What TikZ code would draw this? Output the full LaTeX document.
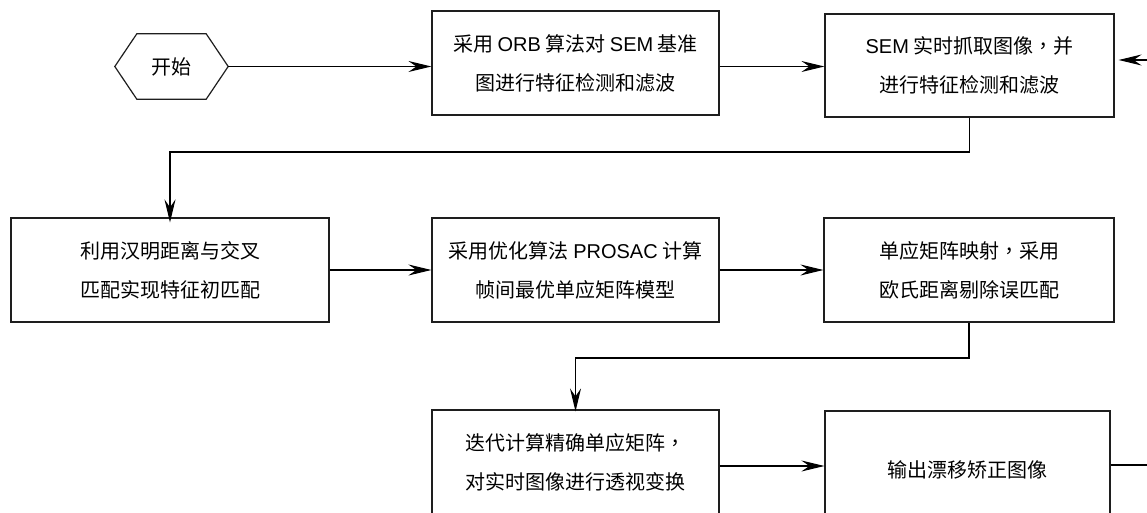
\documentclass[tikz,border=0pt]{standalone}
\usepackage{fontspec}
\setmainfont{Noto Sans CJK SC}
\newfontfamily\lat{Liberation Sans}
\newfontfamily\tcfont{Noto Sans CJK TC}
\newcommand{\cm}{{\tcfont ，}}
\usetikzlibrary{arrows.meta,calc}
\definecolor{ink}{RGB}{30,30,30}
\tikzset{
  box/.style={draw=ink, line width=1.2pt, rectangle, inner sep=0pt, align=center,
              font=\fontsize{20}{39}\selectfont, text=black},
  conn/.style={draw=black, line width=1.1pt},
  arr/.style={conn, -{Stealth[length=23pt,width=11pt,inset=8pt]}}
}
\begin{document}
\begin{tikzpicture}[x=1pt,y=-1pt]
\useasboundingbox (0,0) rectangle (1147,513);
\clip (0,0) rectangle (1147,513);
% start (hexagon)
\node[inner sep=0pt, minimum width=113pt, minimum height=65pt, font=\fontsize{20}{24}\selectfont] (start) at (171.5,66.5) {开始};
\draw[draw=ink, line width=1.2pt] (start.west) -- ($(start.north west)+(22,0)$) -- ($(start.north east)+(-22,0)$)
   -- (start.east) -- ($(start.south east)+(-22,0)$) -- ($(start.south west)+(22,0)$) -- cycle;
% boxes
\node[box, minimum width=287pt, minimum height=104pt] (b1) at (575.5,63)
  {采用 {\lat ORB} 算法对 {\lat SEM} 基准\\图进行特征检测和滤波};
\node[box, minimum width=289pt, minimum height=103pt] (b2) at (969.5,65.5)
  {{\lat SEM} 实时抓取图像\cm 并\\进行特征检测和滤波};
\node[box, minimum width=318pt, minimum height=104pt] (b3) at (170,270)
  {利用汉明距离与交叉\\匹配实现特征初匹配};
\node[box, minimum width=287pt, minimum height=104pt] (b4) at (575.5,270)
  {采用优化算法 {\lat PROSAC} 计算\\帧间最优单应矩阵模型};
\node[box, minimum width=290pt, minimum height=104pt] (b5) at (969,270)
  {单应矩阵映射\cm 采用\\欧氏距离剔除误匹配};
\node[box, minimum width=287pt, minimum height=104pt] (b6) at (575.5,462)
  {迭代计算精确单应矩阵\cm\\对实时图像进行透视变换};
\node[box, minimum width=285pt, minimum height=118pt] (b7) at (967.5,470)
  {输出漂移矫正图像};
% helper coordinates
\coordinate (t1) at (0,152);
\coordinate (t2) at (0,358);
\coordinate (r3) at (0,466);
\coordinate (o7) at (0,465);
\coordinate (inR) at (1160,60);
\coordinate (outR) at (1160,465);
% connectors
\draw[arr] (start.east) -- (start.east -| b1.west);
\draw[arr] (b1.east |- start.east) -- (b2.west |- start.east);
\draw[arr] (inR) -- ([xshift=4pt]b2.east |- inR);
\draw[arr] (b2.south) -- (b2.south |- t1) -- (b3.north |- t1) -- ([yshift=-5pt]b3.north);
\draw[arr] (b3.east) -- (b4.west);
\draw[arr] (b4.east) -- (b5.west);
\draw[arr] (b5.south) -- (b5.south |- t2) -- (b6.north |- t2) -- ([yshift=-2pt]b6.north);
\draw[arr] (b6.east |- r3) -- (b7.west |- r3);
\draw[conn] (b7.east |- o7) -- (outR);
\end{tikzpicture}
\end{document}
